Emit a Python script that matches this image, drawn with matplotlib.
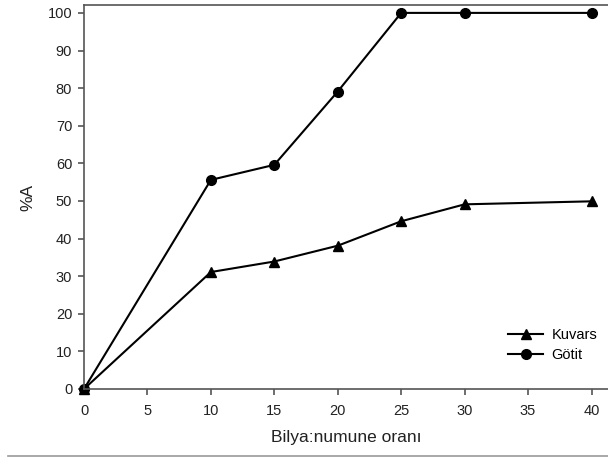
import matplotlib.pyplot as plt
from matplotlib.lines import Line2D

plt.rcParams['font.family'] = ['Liberation Sans', 'DejaVu Sans']

# data
oran = [0, 10, 15, 20, 25, 30, 40]
kuvars = [0, 31.1, 33.9, 38.1, 44.6, 49.1, 49.9]
gotit = [0, 55.6, 59.6, 79.1, 100, 100, 100]

x_ticks = [0, 5, 10, 15, 20, 25, 30, 35, 40]
y_ticks = [0, 10, 20, 30, 40, 50, 60, 70, 80, 90, 100]

fig = plt.figure(figsize=(6.08, 4.57), dpi=100)
ax = fig.add_axes([84 / 608, 1 - 389 / 457, (608 - 84) / 608, (389 - 5) / 457])

ax.plot(oran, kuvars, color="black", lw=1.5, marker="^", ms=7, label="Kuvars")
ax.plot(oran, gotit, color="black", lw=1.5, marker="o", ms=7, label="Götit")

ax.set_xlim(0, 41.3)
ax.set_ylim(0, 102.1)
ax.set_xticks(x_ticks)
ax.set_yticks(y_ticks)
for m in ax.lines:
    m.set_clip_on(False)

ax.spines["right"].set_visible(False)
for s in ["left", "bottom", "top"]:
    ax.spines[s].set_color("#555555")
    ax.spines[s].set_linewidth(1.2)
ax.tick_params(direction="out", length=4.5, width=1.2, color="#555555",
               labelsize=10.5, labelcolor="#222222", pad=4)
ax.tick_params(axis="x", pad=6)

ax.set_xlabel("Bilya:numune oranı", fontsize=12.5, labelpad=9, color="#222222")
ax.set_ylabel("%A", fontsize=12.5, labelpad=9, color="#222222")

ax.legend(loc="upper left", bbox_to_anchor=(508 / 608, 1 - 328 / 457),
          bbox_transform=fig.transFigure, frameon=False, borderpad=0,
          borderaxespad=0, fontsize=10.5, handlelength=2.4,
          handletextpad=0.6, labelspacing=0.42)

fig.add_artist(Line2D([8 / 608, 1], [1 - 455.5 / 457] * 2, color="#999999", lw=1.2))

fig.savefig("out.png", dpi=100)
